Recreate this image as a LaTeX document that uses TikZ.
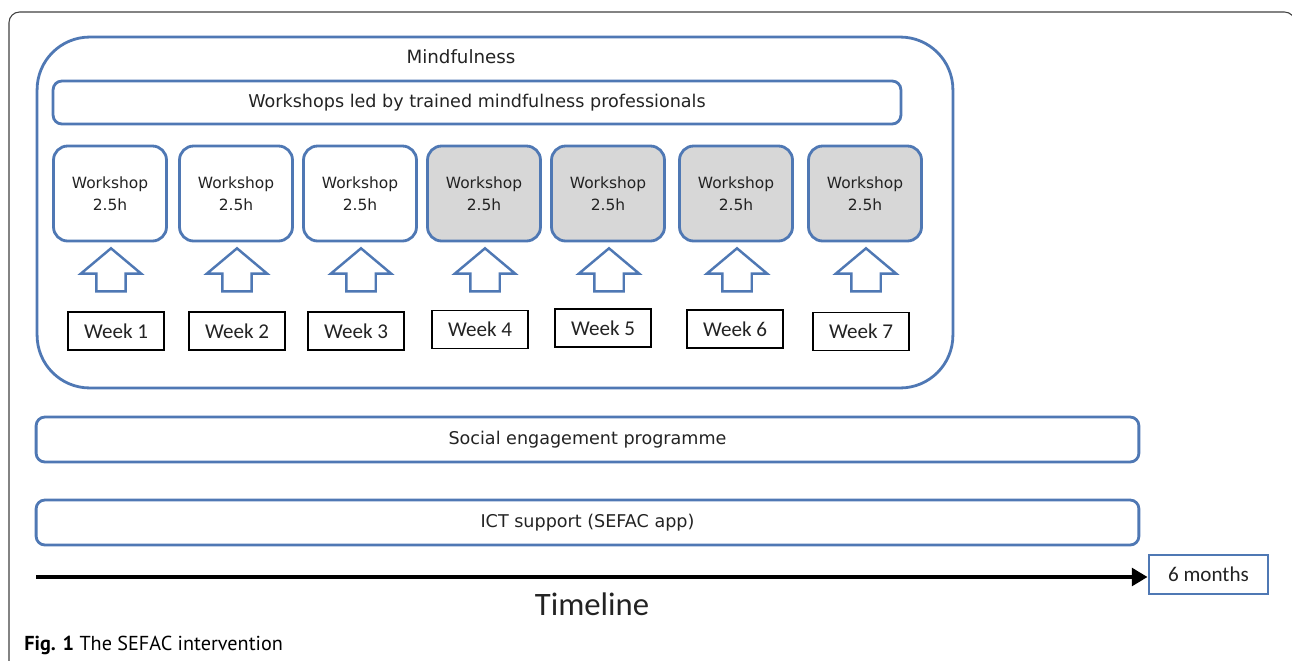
\documentclass[tikz,border=0pt]{standalone}
\usepackage{fontspec}
\setmainfont{DejaVu Sans}
\newfontfamily\calibri{Carlito}
\newfontfamily\capfont{PT Sans}
\usetikzlibrary{positioning,shapes.arrows,arrows.meta}
\definecolor{boxblue}{RGB}{79,120,180}
\definecolor{shopgray}{RGB}{215,215,215}
\definecolor{inkgray}{RGB}{35,35,35}

\begin{document}
\begin{tikzpicture}[x=0.02cm,y=-0.02cm,text=inkgray]
	\tikzset{
		bluebox/.style={draw=boxblue,line width=1.6pt,rounded corners=5pt,font=\fontsize{10}{12}\selectfont},
		shopbox/.style={bluebox,rounded corners=8pt,minimum width=2.26cm,minimum height=1.9cm,align=center,font=\fontsize{8.8}{12.5}\selectfont},
		weekbox/.style={draw=black,line width=1.1pt,minimum width=1.92cm,minimum height=0.76cm,inner sep=0pt,font=\calibri\fontsize{12}{14}\selectfont},
		uparrow/.style={single arrow,draw=boxblue,fill=white,line width=1.4pt,rotate=90,inner xsep=0pt,inner ysep=0.27cm,minimum width=1.16cm,minimum height=0.86cm,single arrow head extend=0.31cm,single arrow tip angle=100},
		monthbox/.style={draw=boxblue,line width=1.6pt,minimum width=2.38cm,minimum height=0.78cm,inner sep=0pt,font=\calibri\fontsize{12}{14}\selectfont}
	}
	\useasboundingbox (0,0) rectangle (1292,660);
	% outer frame
	\begin{scope}
		\clip (0,0) rectangle (1292,660);
		\draw[black!75,line width=0.6pt,rounded corners=6pt] (9,12) rectangle (1295,720);
	\end{scope}
	% mindfulness block
	\node[bluebox,rounded corners=30pt,minimum width=18.32cm,minimum height=7.02cm] (mind) at (495,212.5) {};
	\node[font=\fontsize{10.4}{12}\selectfont] (mindlabel) at (461,57) {Mindfulness};
	\node[bluebox,minimum width=16.96cm,minimum height=0.86cm] (led) at (477,102.5) {Workshops led by trained mindfulness professionals};
	\foreach \i/\x/\c in {1/110/white,2/236/white,3/360/white,4/484/shopgray,5/608/shopgray,6/736/shopgray,7/865/shopgray}{
		\node[shopbox,fill=\c] (shop\i) at (\x,193.5) {Workshop\\2.5h};
		\node[uparrow] (up\i) at (\x+1,276) {};
	}
	\foreach \i/\x/\y in {1/116/331,2/237/331,3/356/331,4/480/329.5,5/603/328,6/735/329,7/861/331.5}
		\node[weekbox] (week\i) at (\x,\y) {Week \i};
	% programme bars
	\node[bluebox,minimum width=22.06cm,minimum height=0.9cm] (social) at (587.5,439.5) {Social engagement programme};
	\node[bluebox,minimum width=22.06cm,minimum height=0.9cm] (ict) at (587.5,522.5) {ICT support (SEFAC app)};
	% timeline
	\node[monthbox] (months) at (1208.5,574.5) {6 months};
	\coordinate (tstart) at (36,577);
	\draw[line width=2.8pt,-{Triangle[length=9pt,width=10pt]}] (tstart) -- (tstart -| months.west);
	\node[font=\calibri\fontsize{18.6}{20}\selectfont] (timeline) at (592,604) {Timeline};
	\node[anchor=west,inner sep=0pt,font=\capfont\fontsize{11.5}{13}\selectfont,text=black] (caption) at (24,645) {\textbf{Fig. 1} The SEFAC intervention};
\end{tikzpicture}
\end{document}
